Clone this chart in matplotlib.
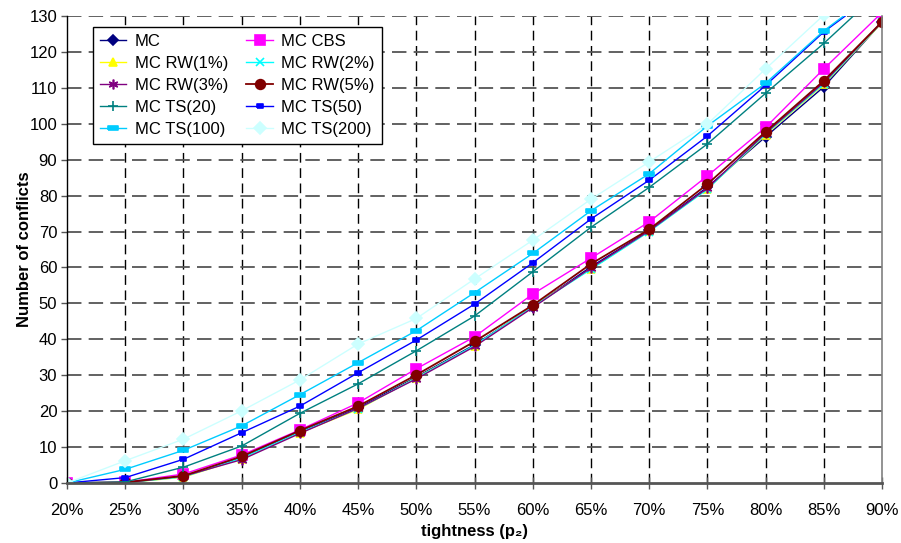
import matplotlib
matplotlib.use("Agg")
import matplotlib.pyplot as plt
from matplotlib.ticker import FixedLocator

plt.rcParams["font.family"] = ["Liberation Sans", "DejaVu Sans"]

# ── data ──────────────────────────────────────────────────────────────────────
tightness = [20, 25, 30, 35, 40, 45, 50, 55, 60, 65, 70, 75, 80, 85, 90]

mc       = [0, 0.1, 1.8, 7.0, 14.2, 21.0, 29.5, 38.5, 49.0, 60.2, 70.3, 82.4, 96.4, 110.3, 128.3]
mc_cbs   = [0, 0.2, 2.5, 7.8, 14.8, 22.3, 31.8, 40.7, 52.6, 62.6, 72.7, 85.5, 99.0, 115.3, 131.0]
mc_rw1   = [0, 0.1, 1.6, 6.8, 14.0, 20.5, 29.3, 38.2, 49.2, 59.6, 70.1, 81.9, 97.0, 111.0, 128.2]
mc_rw2   = [0, 0.1, 1.7, 6.9, 14.1, 20.7, 29.2, 38.3, 49.1, 59.5, 70.0, 81.8, 97.2, 111.2, 128.3]
mc_rw3   = [0, 0.1, 1.9, 6.5, 13.8, 20.8, 29.0, 38.0, 48.8, 59.9, 70.2, 82.1, 97.4, 111.5, 128.4]
mc_rw5   = [0, 0.2, 2.0, 7.4, 14.6, 21.4, 30.1, 39.4, 49.5, 61.0, 70.6, 83.2, 97.8, 112.0, 128.4]
mc_ts20  = [0, 0.3, 4.4, 10.3, 19.4, 27.6, 36.8, 46.5, 58.8, 71.2, 82.3, 94.4, 108.5, 122.4, 137.4]
mc_ts50  = [0, 1.5, 6.6, 14.0, 21.4, 30.7, 39.8, 49.8, 61.3, 73.5, 84.3, 96.6, 110.7, 125.6, 137.6]
mc_ts100 = [0, 3.8, 9.1, 15.9, 24.6, 33.5, 42.4, 53.0, 63.9, 75.8, 86.1, 99.4, 111.3, 125.9, 138.0]
mc_ts200 = [0, 6.2, 12.2, 20.1, 28.7, 38.7, 45.8, 56.8, 67.6, 79.0, 89.4, 99.9, 115.3, 130.3, 146.0]

y_ticks = list(range(0, 131, 10))

# ── styles (Excel 2003 palette) ───────────────────────────────────────────────
bar_s = [(-1.0, -0.45), (1.0, -0.45), (1.0, 0.45), (-1.0, 0.45), (-1.0, -0.45)]

series = [
    ("MC",         mc,       "#000080", "D",      5, 1.0),
    ("MC CBS",     mc_cbs,   "#FF00FF", "s",      7, 1.0),
    ("MC RW(1%)",  mc_rw1,   "#FFFF00", "^",      6, 1.0),
    ("MC RW(2%)",  mc_rw2,   "#00FFFF", "x",      6, 1.0),
    ("MC RW(3%)",  mc_rw3,   "#800080", (6, 2, 0), 7, 1.0),
    ("MC RW(5%)",  mc_rw5,   "#800000", "o",      7, 1.3),
    ("MC TS(20)",  mc_ts20,  "#008080", "+",      7, 1.0),
    ("MC TS(50)",  mc_ts50,  "#0000FF", bar_s,    5, 1.0),
    ("MC TS(100)", mc_ts100, "#00CCFF", bar_s,    7, 1.0),
    ("MC TS(200)", mc_ts200, "#CCFFFF", "D",      6, 1.0),
]

fig = plt.figure(figsize=(9.01, 5.43), dpi=100)
ax = fig.add_axes([0.0744, 0.1105, 0.9046, 0.86])

lines = []
for label, vals, col, mk, ms, lw in series:
    ln, = ax.plot(tightness, vals, color=col, marker=mk, markersize=ms, linewidth=lw,
                  markeredgecolor=col, markerfacecolor=col, markeredgewidth=1.2,
                  label=label)
    lines.append(ln)

ax.set_xlim(20, 90)
ax.set_ylim(0, 130)
ax.xaxis.set_major_locator(FixedLocator(tightness))
ax.yaxis.set_major_locator(FixedLocator(y_ticks))
ax.set_xticklabels([f"{t}%" for t in tightness])

# grid
for t in tightness[1:-1]:
    ax.axvline(t, color="black", linewidth=1.0, dashes=(7, 4), zorder=0)
for v in y_ticks[1:]:
    ax.axhline(v, color="#555555", linewidth=1.3, dashes=(8, 4), zorder=0)

ax.spines["top"].set_visible(False)
ax.spines["left"].set_color("black")
ax.spines["left"].set_linewidth(1.0)
ax.spines["bottom"].set_color("#555555")
ax.spines["bottom"].set_linewidth(2.0)
ax.spines["right"].set_color("#808080")
ax.spines["right"].set_linewidth(1.2)

ax.tick_params(axis="x", direction="inout", length=9, width=1, color="#555555",
               labelsize=12, pad=10)
ax.tick_params(axis="y", direction="out", length=4, width=1, color="#555555",
               labelsize=12, pad=3)

ax.set_xlabel("tightness (p\u2082)", fontsize=12, fontweight="bold", labelpad=4)
ax.set_ylabel("Number of conflicts", fontsize=12, fontweight="bold", labelpad=-2)

# legend fills row by row in the reference -> reorder for column-major layout
order = [0, 2, 4, 6, 8, 1, 3, 5, 7, 9]
leg = ax.legend([lines[i] for i in order], [series[i][0] for i in order],
                loc="upper left", bbox_to_anchor=(0.032, 0.976), ncol=2,
                fontsize=12, frameon=True, fancybox=False, edgecolor="black",
                framealpha=1, labelspacing=0.42, handlelength=1.6,
                handletextpad=0.5, columnspacing=1.1, borderpad=0.4,
                borderaxespad=0)
leg.get_frame().set_linewidth(1.0)

fig.savefig("out.png", dpi=100)
